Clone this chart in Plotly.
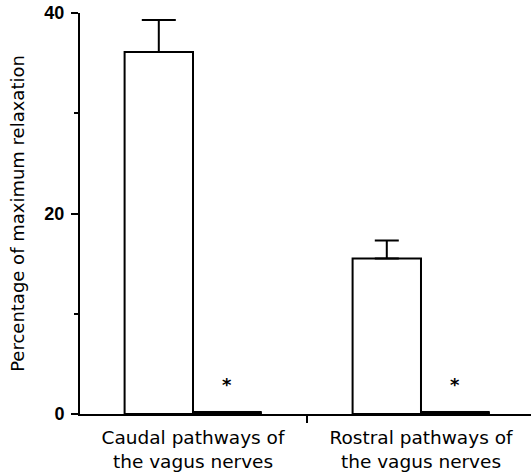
import plotly.graph_objects as go

categories = ["Caudal pathways of<br>the vagus nerves", "Rostral pathways of<br>the vagus nerves"]
control = [36.1, 15.5]
control_err = [3.2, 1.8]
treated = [0.25, 0.25]
significance = ["*", "*"]
y_ticks = [0, 20, 40]
y_minor = [10, 30]

cap_widths = [17, 12]
fig = go.Figure()
for i, cat in enumerate(categories):
    fig.add_trace(go.Bar(
        x=[i], y=[control[i]], offset=-0.3, width=0.3,
        marker=dict(color="white", line=dict(color="black", width=2)),
        error_y=dict(type="data", symmetric=False, array=[control_err[i]], arrayminus=[0],
                     color="black", thickness=2, width=cap_widths[i]),
        showlegend=False, hoverinfo="skip"))
fig.add_trace(go.Bar(
    x=list(range(len(categories))), y=treated, offset=0, width=0.3,
    marker=dict(color="black", line=dict(color="black", width=1)),
    showlegend=False, hoverinfo="skip"))

for i, s in enumerate(significance):
    fig.add_annotation(x=i + 0.15, y=treated[i], text=f"<b>{s}</b>", showarrow=False,
                       yanchor="bottom", yshift=14,
                       font=dict(family="DejaVu Sans", size=18, color="black"))

fig.update_layout(
    width=531, height=472,
    margin=dict(l=80, r=0, t=13, b=58),
    plot_bgcolor="white", paper_bgcolor="white",
    barmode="overlay",
    xaxis=dict(range=[-0.4956, 1.4825], showgrid=False, zeroline=False,
               showline=True, linecolor="black", linewidth=2, automargin=False,
               tickvals=list(range(len(categories))), ticktext=categories,
               ticks="", ticklen=0, ticklabelstandoff=6,
               tickfont=dict(family="DejaVu Sans", size=18.5, color="black"),
               minor=dict(tickvals=[0.5], ticks="outside", ticklen=7, tickwidth=2,
                          tickcolor="black")),
    yaxis=dict(range=[0, 40], showgrid=False, zeroline=False,
               showline=True, linecolor="black", linewidth=2, automargin=False,
               tickvals=y_ticks, ticktext=[f"<b>{v}</b>" for v in y_ticks],
               ticks="outside", ticklen=7, tickwidth=2, tickcolor="black",
               ticklabelstandoff=3,
               tickfont=dict(family="Liberation Sans", size=18, color="black"),
               minor=dict(tickvals=y_minor, ticks="outside", ticklen=4, tickwidth=2,
                          tickcolor="black"),
               title=dict(text="Percentage of maximum relaxation", standoff=15,
                          font=dict(family="DejaVu Sans", size=18, color="black"))),
)
fig.write_html("out.html")
